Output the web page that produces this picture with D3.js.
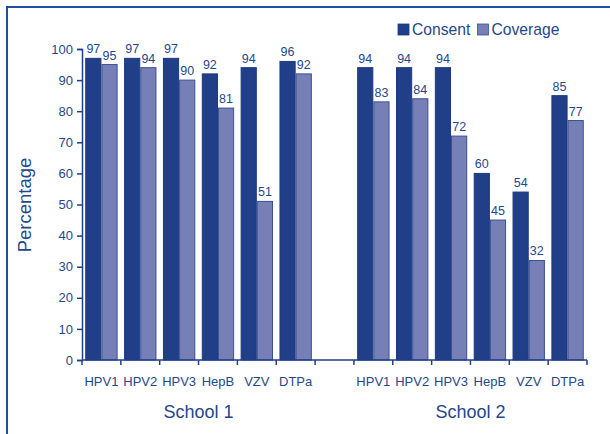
<!DOCTYPE html>
<html>
<head>
<meta charset="utf-8">
<script src="https://cdn.jsdelivr.net/npm/d3@7"></script>
<style>
  html, body { margin: 0; padding: 0; background: #fff; }
  svg { display: block; font-family: Arial, "Liberation Sans", Helvetica, sans-serif; }
</style>
</head>
<body>
<svg id="chart" width="610" height="434"></svg>
<script>
// Vaccines per school; the empty slot separates the two schools
const vaccines = ["HPV1", "HPV2", "HPV3", "HepB", "VZV", "DTPa"];
const schools = ["School 1", "School 2"];
const consentSchool1 = [97, 97, 97, 92, 94, 96];
const coverageSchool1 = [95, 94, 90, 81, 51, 92];
const consentSchool2 = [94, 94, 94, 60, 54, 85];
const coverageSchool2 = [83, 84, 72, 45, 32, 77];
const seriesNames = ["Consent", "Coverage"];
const yTicks = [0, 10, 20, 30, 40, 50, 60, 70, 80, 90, 100];

const colors = { Consent: "#203f88", Coverage: "#7780b6" };
const strokes = { Consent: "#1d3a80", Coverage: "#3a4f95" };
const textColor = "#1f478c";

// Build slot rows (13 slots: 6 + gap + 6)
const rows = [];
vaccines.forEach((v, i) => rows.push({ key: "s1-" + v, label: v, school: 0, Consent: consentSchool1[i], Coverage: coverageSchool1[i] }));
rows.push({ key: "gap", label: "", school: -1 });
vaccines.forEach((v, i) => rows.push({ key: "s2-" + v, label: v, school: 1, Consent: consentSchool2[i], Coverage: coverageSchool2[i] }));

const svg = d3.select("#chart");

// Frame along the top and left edges
svg.append("path")
  .attr("d", "M7,434 L7,7 L610,7")
  .attr("fill", "none")
  .attr("stroke", "#1f4e9a")
  .attr("stroke-width", 2);

const plotLeft = 82, plotRight = 587, plotTop = 49, plotBottom = 360;

const x = d3.scaleBand().domain(rows.map(d => d.key)).range([plotLeft, plotRight]).paddingInner(0).paddingOuter(0);
const xs = d3.scaleBand().domain(seriesNames).range([0, x.bandwidth()]).paddingInner(0).paddingOuter(0.2);
const y = d3.scaleLinear().domain([0, 100]).range([plotBottom, plotTop]);

// Y axis
const yAxis = svg.append("g").attr("transform", `translate(${plotLeft},0)`)
  .call(d3.axisLeft(y).tickValues(yTicks).tickSize(5).tickPadding(4));
yAxis.select(".domain").attr("stroke", "#1f3f88").attr("stroke-width", 1.5);
yAxis.selectAll(".tick line").attr("stroke", "#1f3f88").attr("stroke-width", 1.5);
yAxis.selectAll(".tick text").attr("fill", textColor).attr("font-size", 13)
  .attr("font-family", "Arial, 'Liberation Sans', sans-serif");

// Bars
const groups = svg.append("g").selectAll("g")
  .data(rows.filter(d => d.school >= 0))
  .join("g")
  .attr("transform", d => `translate(${x(d.key)},0)`);

groups.selectAll("rect")
  .data(d => seriesNames.map(s => ({ s, v: d[s] })))
  .join("rect")
  .attr("x", d => xs(d.s) + 0.5)
  .attr("y", d => y(d.v))
  .attr("width", xs.bandwidth() - 1)
  .attr("height", d => y(0) - y(d.v))
  .attr("fill", d => colors[d.s])
  .attr("stroke", d => strokes[d.s])
  .attr("stroke-width", 1);

// Value labels
groups.selectAll("text")
  .data(d => seriesNames.map(s => ({ s, v: d[s] })))
  .join("text")
  .attr("x", d => xs(d.s) + xs.bandwidth() / 2)
  .attr("y", d => y(d.v) - 5)
  .attr("text-anchor", "middle")
  .attr("font-size", 12.5)
  .attr("fill", textColor)
  .text(d => d.v);

// X axis with ticks at slot boundaries
const xAxisG = svg.append("g").attr("transform", `translate(0,${plotBottom})`);
xAxisG.append("line")
  .attr("x1", plotLeft).attr("x2", plotRight)
  .attr("stroke", "#1f3f88").attr("stroke-width", 1.5);
const boundaries = rows.map(d => x(d.key)).concat([plotRight]);
xAxisG.selectAll("line.tick")
  .data(boundaries)
  .join("line")
  .attr("class", "tick")
  .attr("x1", d => d).attr("x2", d => d)
  .attr("y1", 0).attr("y2", 5)
  .attr("stroke", "#1f3f88").attr("stroke-width", 1.5);

xAxisG.selectAll("text")
  .data(rows.filter(d => d.school >= 0))
  .join("text")
  .attr("x", d => x(d.key) + x.bandwidth() / 2)
  .attr("y", 26)
  .attr("text-anchor", "middle")
  .attr("font-size", 13)
  .attr("fill", textColor)
  .text(d => d.label);

// School labels centred under each group of six
schools.forEach((name, i) => {
  const keys = rows.filter(d => d.school === i).map(d => d.key);
  const x0 = x(keys[0]), x1 = x(keys[keys.length - 1]) + x.bandwidth();
  svg.append("text")
    .attr("x", (x0 + x1) / 2)
    .attr("y", 418)
    .attr("text-anchor", "middle")
    .attr("font-size", 18)
    .attr("fill", textColor)
    .text(name);
});

// Y axis title
svg.append("text")
  .attr("transform", "translate(31,205) rotate(-90)")
  .attr("text-anchor", "middle")
  .attr("font-size", 18.5)
  .attr("fill", textColor)
  .text("Percentage");

// Legend
const legend = svg.append("g").attr("transform", "translate(398,24)");
let lx = 0;
seriesNames.forEach(s => {
  legend.append("rect")
    .attr("x", lx).attr("y", 0).attr("width", 11).attr("height", 11)
    .attr("fill", colors[s]).attr("stroke", strokes[s]).attr("stroke-width", 0.8);
  const t = legend.append("text")
    .attr("x", lx + 14).attr("y", 11)
    .attr("font-size", 15.7)
    .attr("fill", textColor)
    .text(s);
  lx += 14 + t.node().getComputedTextLength() + 7;
});
</script>
</body>
</html>
